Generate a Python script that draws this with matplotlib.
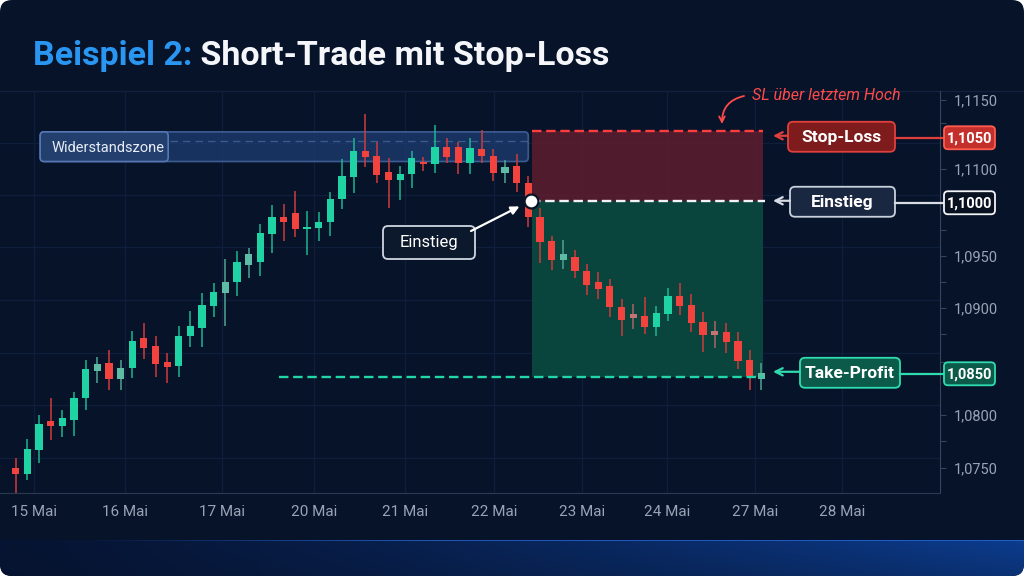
import matplotlib
matplotlib.use('Agg')
import matplotlib.pyplot as plt
import numpy as np
from matplotlib import font_manager
from matplotlib.patches import FancyBboxPatch, Rectangle
from matplotlib.colors import to_rgb

# candles (EUR/USD, one per ~3h)
opens = [1.0750, 1.0744, 1.0767, 1.0794, 1.0790, 1.0795, 1.0816, 1.0841, 1.0849, 1.0834,
         1.0844, 1.0873, 1.0865, 1.0850, 1.0846, 1.0874, 1.0882, 1.0903, 1.0915, 1.0925,
         1.0941, 1.0944, 1.0971, 1.0987, 1.0990, 1.0975, 1.0976, 1.0982, 1.1004, 1.1024,
         1.1049, 1.1044, 1.1029, 1.1022, 1.1027, 1.1039, 1.1037, 1.1053, 1.1053, 1.1038,
         1.1051, 1.1044, 1.1028, 1.1035, 1.1019, 1.0987, 1.0964, 1.0946, 1.0949, 1.0936,
         1.0925, 1.0922, 1.0902, 1.0895, 1.0893, 1.0883, 1.0895, 1.0912, 1.0904, 1.0888,
         1.0879, 1.0878, 1.0870, 1.0852, 1.0834]
highs = [1.0759, 1.0777, 1.0800, 1.0816, 1.0805, 1.0822, 1.0852, 1.0855, 1.0861, 1.0852,
         1.0879, 1.0887, 1.0874, 1.0858, 1.0884, 1.0898, 1.0915, 1.0924, 1.0947, 1.0955,
         1.0957, 1.0980, 1.0998, 1.0999, 1.1011, 1.0992, 1.0991, 1.1010, 1.1041, 1.1061,
         1.1084, 1.1057, 1.1042, 1.1035, 1.1049, 1.1043, 1.1073, 1.1061, 1.1057, 1.1061,
         1.1069, 1.1051, 1.1040, 1.1046, 1.1025, 1.0995, 1.0969, 1.0965, 1.0956, 1.0942,
         1.0935, 1.0928, 1.0909, 1.0905, 1.0911, 1.0903, 1.0920, 1.0924, 1.0914, 1.0897,
         1.0889, 1.0887, 1.0878, 1.0861, 1.0849]
lows = [1.0726, 1.0739, 1.0755, 1.0776, 1.0779, 1.0780, 1.0805, 1.0830, 1.0824, 1.0824,
        1.0835, 1.0853, 1.0836, 1.0830, 1.0836, 1.0864, 1.0864, 1.0892, 1.0884, 1.0912,
        1.0929, 1.0931, 1.0953, 1.0964, 1.0968, 1.0951, 1.0964, 1.0969, 1.0994, 1.1009,
        1.1034, 1.1019, 1.0995, 1.1003, 1.1014, 1.1030, 1.1028, 1.1038, 1.1027, 1.1027,
        1.1038, 1.1021, 1.1019, 1.1010, 1.0977, 1.0943, 1.0937, 1.0938, 1.0929, 1.0913,
        1.0909, 1.0892, 1.0874, 1.0881, 1.0876, 1.0874, 1.0889, 1.0894, 1.0878, 1.0859,
        1.0863, 1.0858, 1.0843, 1.0824, 1.0824]
closes = [1.0744, 1.0768, 1.0791, 1.0790, 1.0797, 1.0816, 1.0843, 1.0848, 1.0834, 1.0844,
          1.0870, 1.0863, 1.0848, 1.0845, 1.0874, 1.0884, 1.0904, 1.0916, 1.0925, 1.0944,
          1.0952, 1.0972, 1.0987, 1.0982, 1.0975, 1.0977, 1.0982, 1.1004, 1.1025, 1.1049,
          1.1043, 1.1026, 1.1022, 1.1027, 1.1042, 1.1037, 1.1053, 1.1043, 1.1038, 1.1052,
          1.1044, 1.1028, 1.1034, 1.1019, 1.0987, 1.0963, 1.0946, 1.0952, 1.0936, 1.0923,
          1.0919, 1.0902, 1.0890, 1.0891, 1.0883, 1.0896, 1.0912, 1.0903, 1.0887, 1.0875,
          1.0875, 1.0869, 1.0851, 1.0837, 1.0840]
faded = [7, 9, 18, 20, 42, 47, 53, 60, 64]  # greyish candles

day_labels = ['15 Mai', '16 Mai', '17 Mai', '20 Mai', '21 Mai', '22 Mai',
              '23 Mai', '24 Mai', '27 Mai', '28 Mai']
day_pos = [1.57, 9.38, 17.7, 25.6, 33.4, 41.06, 48.6, 55.9, 63.46, 70.9]

ytick_vals = [1.1097, 1.1032, 1.0950, 1.0901, 1.0800, 1.0750]
ytick_labels = ['1,1150', '1,1100', '1,0950', '1,0900', '1,0800', '1,0750']
ytick_minor = [1.1075, 1.0974, 1.0925, 1.0876, 1.0850, 1.0775]
grid_levels = [1.0759, 1.0809, 1.0858, 1.0908, 1.0958, 1.1007, 1.1056]

entry = 1.1002
stop_loss = 1.1068
take_profit = 1.0836
zone_low, zone_high, zone_line = 1.1039, 1.1067, 1.1058
zone_start, zone_end = 2.1, 44.0
trade_start, trade_end = 44.3, 64.15
tp_line_start = 22.6
entry_idx = 44.2

level_names = ['Stop-Loss', 'Einstieg', 'Take-Profit']
level_prices = [stop_loss, entry, take_profit]
level_badges = ['1,1050', '1,1000', '1,0850']

# styling
BG = '#071329'
GREEN = '#1fd3a4'
RED = '#f2433f'
GREY = '#9aa3a8'
TXT = '#98a3b5'

names = {f.name for f in font_manager.fontManager.ttflist}
NARROW = 'Liberation Sans Narrow' if 'Liberation Sans Narrow' in names else 'Roboto'
plt.rcParams['font.family'] = [NARROW, 'DejaVu Sans']


def mix(c1, c2, t):
    a, b = np.array(to_rgb(c1)), np.array(to_rgb(c2))
    return tuple(a * (1 - t) + b * t)


fig = plt.figure(figsize=(10.24, 5.76), dpi=100)
fig.patch.set_facecolor('white')

# pixel canvas for background and annotations
bg = fig.add_axes([0, 0, 1, 1], zorder=0)
bg.set_xlim(0, 1024)
bg.set_ylim(576, 0)
bg.axis('off')
pix = bg.transData

panel = FancyBboxPatch((0, 0), 1024, 576, boxstyle='round,pad=0,rounding_size=12',
                       fc=BG, ec='none', zorder=0)
bg.add_patch(panel)

# bottom blue band
t = np.linspace(0, 1, 256)
left_c, right_c = np.array(to_rgb('#061433')), np.array(to_rgb('#0c3c8e'))
row = left_c[None, :] * (1 - t[:, None] ** 1.3) + right_c[None, :] * (t[:, None] ** 1.3)
band = np.repeat(row[None, :, :], 36, axis=0)
fade = np.linspace(1.0, 0.75, 36)[:, None, None]
band = band * fade + np.array(to_rgb(BG))[None, None, :] * (1 - fade)
line_c = np.array(to_rgb('#2a6ae0'))
w = np.clip((t[:, None] - 0.08) * 3, 0, 1)
band[0] = row * 0.3 + line_c[None, :] * 0.7 * w + row * 0.7 * (1 - w)
im = bg.imshow(np.clip(band, 0, 1), extent=(0, 1024, 576, 540), aspect='auto', zorder=1,
               interpolation='bilinear')
im.set_clip_path(panel)
bg.set_xlim(0, 1024)
bg.set_ylim(576, 0)
bg.plot([0, 1024], [91, 91], color='#12223c', lw=1, zorder=2)

# title
t1 = bg.text(33, 65, 'Beispiel 2:', color='#2996f2', fontsize=24.5, fontweight='bold',
             va='baseline', ha='left')
bg.annotate(' Short-Trade mit Stop-Loss', xy=(1, 0), xycoords=t1, va='bottom', ha='left',
            color='#f4f6fa', fontsize=24.5, fontweight='bold')

# main chart
ax = fig.add_axes([0, (576 - 493) / 576, 940 / 1024, (493 - 91) / 576], zorder=2)
ax.set_facecolor('none')
X0, DX = 15.7, 11.65
ax.set_xlim(-X0 / DX, (940 - X0) / DX)
ax.set_ylim(1.07264, 1.11055)

for s in ['top', 'left']:
    ax.spines[s].set_visible(False)
ax.spines['bottom'].set_color('#2b3a54')
ax.spines['right'].set_color('#36455e')

ax.yaxis.tick_right()
ax.set_yticks(ytick_vals, ytick_labels)
ax.set_yticks(ytick_minor, minor=True)
ax.tick_params(axis='y', which='both', colors='#36455e', labelcolor=TXT, length=4,
               width=0.8, pad=6, labelsize=10.5)
ax.set_xticks(day_pos, day_labels)
ax.tick_params(axis='x', length=0, pad=9, labelcolor=TXT, labelsize=11)

for p in day_pos:
    ax.axvline(p, color='#0e1f3b', lw=0.9, zorder=0)
for g in grid_levels:
    ax.axhline(g, color='#0e1f3b', lw=0.9, zorder=0)


def to_px(xd, yd):
    return bg.transData.inverted().transform(ax.transData.transform((xd, yd)))


# resistance zone
zx0, zy0 = to_px(zone_start, zone_high)
zx1, zy1 = to_px(zone_end, zone_low)
ax.add_patch(FancyBboxPatch((zx0, zy0), zx1 - zx0, zy1 - zy0,
                            boxstyle='round,pad=0,rounding_size=4', transform=pix,
                            fc='#1d3d72', ec='#4b6fae', lw=1.2, alpha=0.75, zorder=1))
ax.add_patch(FancyBboxPatch((zx0, zy0), 128, zy1 - zy0,
                            boxstyle='round,pad=0,rounding_size=4', transform=pix,
                            fc='#223f6e', ec='#5577b4', lw=1.2, zorder=1.5))
ax.hlines(zone_line, zone_start + 130 / DX, zone_end, colors='#5a78aa', lw=0.9,
          linestyles=(0, (6, 4)), alpha=0.6, zorder=1.6)
ax.text(zx0 + 11, (zy0 + zy1) / 2 + 1, 'Widerstandszone', transform=pix, color='#e8edf5',
        fontsize=10.5, va='center', ha='left', zorder=1.7)

# trade boxes
ax.add_patch(Rectangle((trade_start, entry), trade_end - trade_start, stop_loss - entry,
                       fc='#5a1d2f', ec='none', alpha=0.9, zorder=2))
ax.add_patch(Rectangle((trade_start, take_profit), trade_end - trade_start,
                       entry - take_profit, fc='#0a4a40', ec='none', alpha=0.9, zorder=2))

# candles
o, h, l, c = map(np.array, (opens, highs, lows, closes))
x = np.arange(len(o))
up = c >= o
body_cols = [GREEN if u else RED for u in up]
for i in faded:
    body_cols[i] = mix(body_cols[i], GREY, 0.5)
wick_cols = [mix(col, BG, 0.15) for col in body_cols]
ax.vlines(x, l, h, colors=wick_cols, lw=1.1, zorder=4)
ax.bar(x, np.maximum(np.abs(c - o), 0.00012), bottom=np.minimum(o, c), width=0.62,
       color=body_cols, linewidth=0, zorder=5)

# level lines
ax.hlines(stop_loss, trade_start, trade_end, colors='#ff3d3d', lw=1.7,
          linestyles=(0, (4, 2)), zorder=6)
ax.hlines(entry, entry_idx, trade_end + 0.2, colors='#f0f2f5', lw=1.7,
          linestyles=(0, (4, 2)), zorder=6)
ax.hlines(take_profit, tp_line_start, trade_end, colors='#22d6a8', lw=1.7,
          linestyles=(0, (4, 2)), zorder=6)

ax.plot(entry_idx, entry, 'o', ms=10, mfc='white', mec='#0a1426', mew=1.6, zorder=8,
        clip_on=False)

# entry callout
ax.add_patch(FancyBboxPatch((383, 226), 92, 33, boxstyle='round,pad=0,rounding_size=5',
                            transform=pix, fc='#0c182b', ec='#cfd6e0', lw=1.3, zorder=7))
ax.text(429, 243, 'Einstieg', transform=pix, color='white', fontsize=12, ha='center',
        va='center', zorder=8)
ax.annotate('', xy=(entry_idx, entry), xycoords='data', xytext=(471, 231), textcoords=pix,
            arrowprops=dict(arrowstyle='-|>', color='white', lw=1.6, shrinkA=0, shrinkB=9,
                            mutation_scale=12), zorder=8)

# SL note
ax.text(752, 95, 'SL über letztem Hoch', transform=pix, color='#ff4a4a', fontsize=11.5,
        style='italic', ha='left', va='center', clip_on=False, zorder=8)
ax.annotate('', xy=(722, 124), xycoords=pix, xytext=(744, 96), textcoords=pix,
            arrowprops=dict(arrowstyle='->', color='#ff4a4a', lw=1.3,
                            connectionstyle='arc3,rad=0.4', shrinkA=0, shrinkB=0),
            annotation_clip=False, zorder=8)

# right-hand level labels and price badges
styles = [
    dict(fc='#7e1b1d', ec='#e0403c', badge_fc='#c3302b', badge_ec='#ff5b50', line='#e0403c',
         box=(788, 107), dy=6),
    dict(fc='#192740', ec='#c9d1dd', badge_fc='#08111f', badge_ec='#f2f4f7', line='#d8dde5',
         box=(790, 105), dy=1),
    dict(fc='#0b5a4a', ec='#2fdcb0', badge_fc='#0b5a4a', badge_ec='#2fdcb0', line='#2fdcb0',
         box=(800, 100), dy=-4),
]
for name, price, badge, st in zip(level_names, level_prices, level_badges, styles):
    _, yp = to_px(0, price)
    yc = yp + st['dy']
    bx, bw = st['box']
    ax.add_patch(FancyBboxPatch((bx, yc - 15), bw, 30, boxstyle='round,pad=0,rounding_size=5',
                                transform=pix, fc=st['fc'], ec=st['ec'], lw=1.3, zorder=9,
                                clip_on=False))
    ax.text(bx + bw / 2, yc + 1, name, transform=pix, color='white', fontsize=12.5,
            fontweight='bold', ha='center', va='center', zorder=10, clip_on=False)
    ax.annotate('', xy=(773, yc - 1), xycoords=pix, xytext=(bx, yc - 1), textcoords=pix,
                arrowprops=dict(arrowstyle='->', color=st['line'], lw=1.6, shrinkA=0,
                                shrinkB=0, mutation_scale=13),
                annotation_clip=False, zorder=9)
    ax.plot([bx + bw, 944], [yc + 1, yc + 1], color=st['line'], lw=1.6, transform=pix,
            clip_on=False, zorder=9)
    ax.add_patch(FancyBboxPatch((944, yc - 10.5), 51, 23, boxstyle='round,pad=0,rounding_size=4',
                                transform=pix, fc=st['badge_fc'], ec=st['badge_ec'], lw=1.3,
                                zorder=11, clip_on=False))
    ax.text(969.5, yc + 1.5, badge, transform=pix, color='white', fontsize=10.5,
            fontweight='bold', ha='center', va='center', zorder=12, clip_on=False)

fig.savefig('out.png', dpi=100, facecolor=fig.get_facecolor())
